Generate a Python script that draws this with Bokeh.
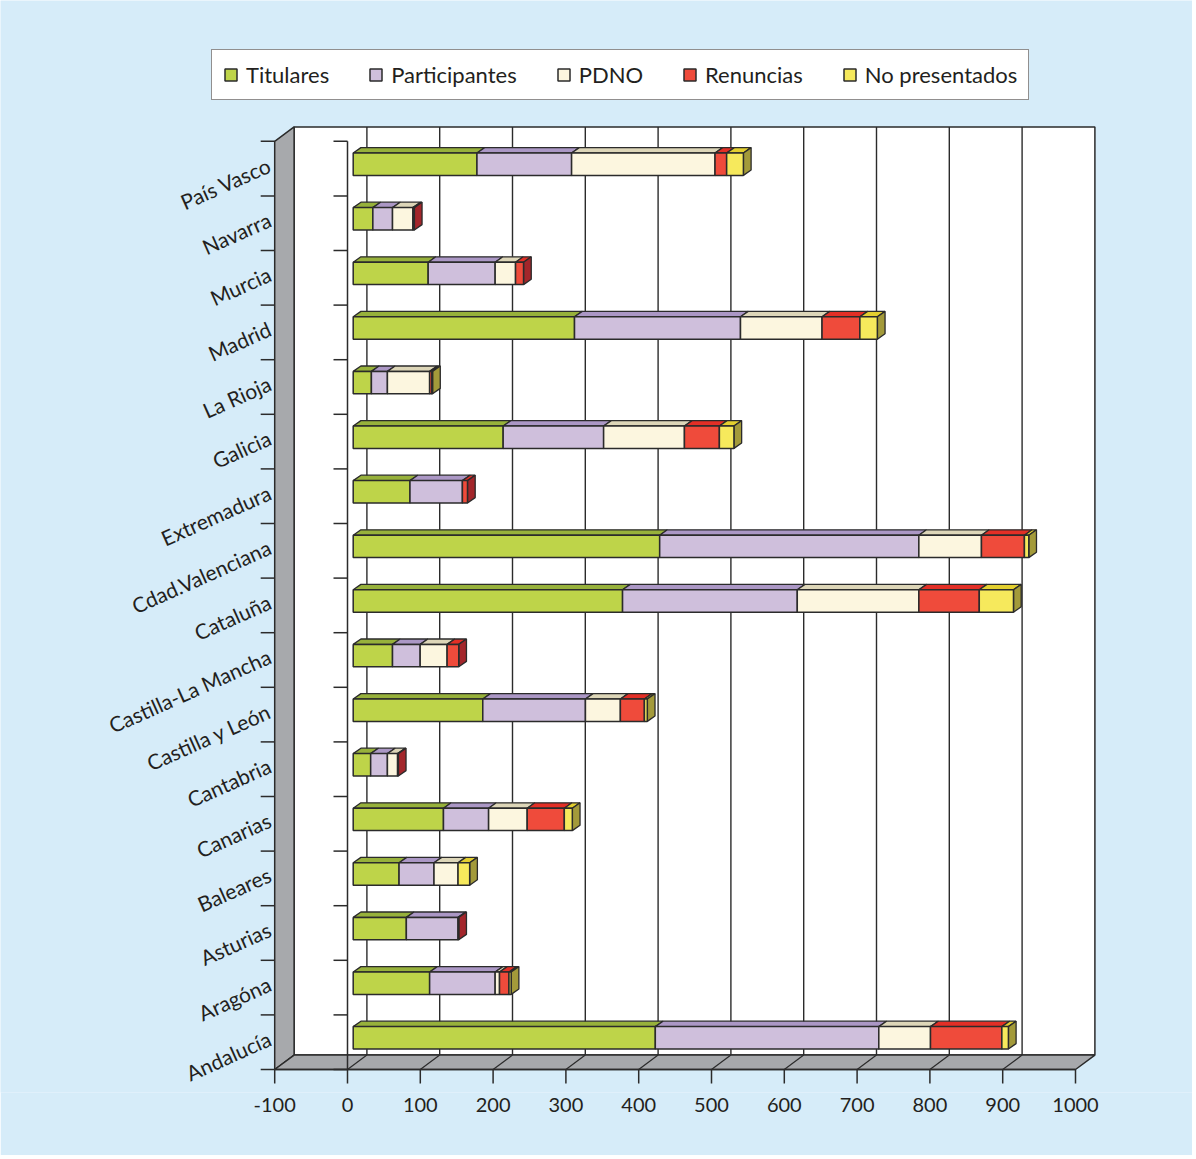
import numpy as np
from bokeh.plotting import figure
from bokeh.models import Range1d, FixedTicker, Legend, LegendItem, ColumnDataSource, Label
from bokeh.embed import file_html
from bokeh.resources import INLINE

# ---------------- data (bottom -> top) ----------------
categories = ["Andalucía", "Aragóna", "Asturias", "Baleares", "Canarias", "Cantabria",
              "Castilla y León", "Castilla-La Mancha", "Cataluña", "Cdad.Valenciana",
              "Extremadura", "Galicia", "La Rioja", "Madrid", "Murcia", "Navarra", "País Vasco"]
titulares      = [415, 105, 73, 63, 124, 24, 178, 54, 370, 421, 78, 206, 25, 304, 103, 27, 170]
participantes  = [307, 90, 71, 48, 62, 23, 141, 38, 240, 356, 72, 138, 22, 228, 92, 27, 130]
pdno           = [71, 6, 0, 33, 53, 14, 48, 37, 167, 86, 0, 111, 58, 112, 28, 28, 197]
renuncias      = [98, 13, 1, 0, 51, 1, 33, 16, 83, 59, 7, 48, 3, 52, 11, 2, 16]
no_presentados = [9, 3, 0, 16, 11, 0, 4, 0, 47, 6, 0, 20, 1, 24, 0, 0, 23]
series_names = ["Titulares", "Participantes", "PDNO", "Renuncias", "No presentados"]
x_ticks = [-100, 0, 100, 200, 300, 400, 500, 600, 700, 800, 900, 1000]

series = [titulares, participantes, pdno, renuncias, no_presentados]
front_col = ["#bed449", "#cfbfdc", "#fcf6df", "#ef4b3b", "#f6e95c"]
top_col   = ["#97b13b", "#ab97c5", "#ddd6b8", "#e32f26", "#e3cf2f"]
side_col  = ["#7e9a2e", "#8f7aa8", "#bdb596", "#a3262b", "#a39a3a"]
EDGE = "#2b2b2b"
TXT = "#231f20"
BG = "#d6ecf9"
WALL = "#a7a9ac"
FONT = "Lato"

# ---------------- geometry (screen layout) ----------------
W, H = 1192, 1155
K = 0.728          # px per value unit
X0 = 347.0         # px of value 0 (front plane)
Y0 = 1069.0        # px of category 0 (front floor)
FB = 1092.0        # px of frame bottom (below the floor, so rotated labels are not clipped)
BAND = 54.6        # px per category
NC = len(categories)

def vx(px):  # px -> value units
    return (px - X0) / K

def cy(py):  # px -> category units
    return (Y0 - py) / BAND

DXU = 19.4 / K
DYU = 14.4 / BAND
FX, FY = 5.7 / K, 4.4 / BAND      # bar front-face offset
EX, EY = 7.7 / K, 5.4 / BAND      # bar extrusion
HH = 11.2 / BAND                   # half bar height
LAB_UP = 5.0 / BAND                # label lift

p = figure(width=W, height=H, output_backend="svg", toolbar_location=None, title=None,
           x_range=Range1d(vx(0), vx(W)), y_range=Range1d(cy(FB), cy(0)),
           y_axis_location=None, min_border_left=0, min_border_right=0,
           min_border_top=0, min_border_bottom=int(H - FB))
p.background_fill_color = BG
p.border_fill_color = BG
p.outline_line_color = None
p.grid.visible = False

xmin, xmax = x_ticks[0], x_ticks[-1]
# back wall
p.patch([xmin + DXU, xmax + DXU, xmax + DXU, xmin + DXU],
        [DYU, DYU, NC + DYU, NC + DYU], fill_color="white", line_color=EDGE, line_width=1.5)
# left wall
p.patch([xmin, xmin + DXU, xmin + DXU, xmin], [0, DYU, NC + DYU, NC],
        fill_color=WALL, line_color=EDGE, line_width=1.5)
# floor
p.patch([xmin, xmax, xmax + DXU, xmin + DXU], [0, 0, DYU, DYU],
        fill_color=WALL, line_color=EDGE, line_width=1.5)
# back gridlines and floor diagonals
gt = [t for t in x_ticks if xmin < t < xmax]
p.segment(x0=[t + DXU for t in gt], y0=[DYU] * len(gt), x1=[t + DXU for t in gt], y1=[NC + DYU] * len(gt),
          line_color=EDGE, line_width=1.4)
p.segment(x0=gt, y0=[0] * len(gt), x1=[t + DXU for t in gt], y1=[DYU] * len(gt),
          line_color=EDGE, line_width=1.2)
# category ticks on left wall edge and on inner axis at 0
bnds = list(range(NC + 1))
tl = 14 / K
p.segment(x0=[xmin - tl] * len(bnds), y0=bnds, x1=[xmin] * len(bnds), y1=bnds, line_color=EDGE, line_width=1.5)
p.segment(x0=[0 - tl] * len(bnds), y0=bnds, x1=[0] * len(bnds), y1=bnds, line_color=EDGE, line_width=1.5)
p.segment(x0=[0], y0=[0], x1=[0], y1=[NC], line_color=EDGE, line_width=1.5)
# value-axis line and downward ticks on the front floor edge
p.segment(x0=[xmin], y0=[0], x1=[xmax], y1=[0], line_color=EDGE, line_width=1.5)
p.segment(x0=x_ticks, y0=[0] * len(x_ticks), x1=x_ticks, y1=[cy(Y0 + 14)] * len(x_ticks),
          line_color=EDGE, line_width=1.5)

# ---------------- bars ----------------
cum = np.zeros(NC)
fronts = []
tops = []
last_end = [None] * NC
for j, s in enumerate(series):
    s = np.array(s, dtype=float)
    d = dict(left=[], right=[], bottom=[], top=[])
    txs, tys = [], []
    for i in range(NC):
        if s[i] <= 0:
            continue
        l, r = cum[i] + FX, cum[i] + s[i] + FX
        b, t = i + 0.5 - HH + FY, i + 0.5 + HH + FY
        d["left"].append(l); d["right"].append(r); d["bottom"].append(b); d["top"].append(t)
        txs.append([l, r, r + EX, l + EX]); tys.append([t, t, t + EY, t + EY])
        last_end[i] = (r, b, t, j)
    cum += s
    fronts.append(d)
    tops.append((txs, tys))

for j in range(len(series)):
    p.patches(xs=tops[j][0], ys=tops[j][1], fill_color=top_col[j], line_color=EDGE, line_width=1.3)

sx, sy, sc = [], [], []
for i in range(NC):
    r, b, t, j = last_end[i]
    sx.append([r, r, r + EX, r + EX]); sy.append([b, t, t + EY, b + EY]); sc.append(side_col[j])
p.patches(xs=sx, ys=sy, fill_color=sc, line_color=EDGE, line_width=1.3)

front_renderers = []
for j in range(len(series)):
    r = p.quad(source=ColumnDataSource(fronts[j]), left="left", right="right", bottom="bottom", top="top",
               fill_color=front_col[j], line_color=EDGE, line_width=1.5)
    front_renderers.append(r)

# ---------------- category labels ----------------
for i, name in enumerate(categories):
    p.add_layout(Label(x=vx(269), y=i + 0.5 + LAB_UP, text=name, angle=24, angle_units="deg",
                       text_align="right", text_baseline="middle", text_font=FONT,
                       text_font_size="21px", text_color=TXT))

# ---------------- x axis (tick labels only; line/ticks drawn on the floor edge) ----------------
ax = p.xaxis[0]
ax.ticker = FixedTicker(ticks=x_ticks)
ax.major_label_overrides = {t: str(t) for t in x_ticks}
ax.axis_line_color = None
ax.major_tick_line_color = None
ax.major_tick_in = 0
ax.major_tick_out = 0
ax.minor_tick_line_color = None
ax.major_label_text_font = FONT
ax.major_label_text_font_size = "20px"
ax.major_label_text_color = TXT
ax.major_label_standoff = 5

# ---------------- legend ----------------
legend = Legend(items=[LegendItem(label=n, renderers=[front_renderers[j]]) for j, n in enumerate(series_names)],
                orientation="horizontal", location=(211, int(FB - 100)), margin=0, padding=11, spacing=39,
                glyph_width=15, glyph_height=15, label_standoff=8,
                label_text_font=FONT, label_text_font_size="22px", label_text_color=TXT,
                border_line_color=TXT, border_line_width=1.3, background_fill_color="white",
                background_fill_alpha=1.0)
p.add_layout(legend)

open("out.html", "w").write(file_html(p, INLINE))
